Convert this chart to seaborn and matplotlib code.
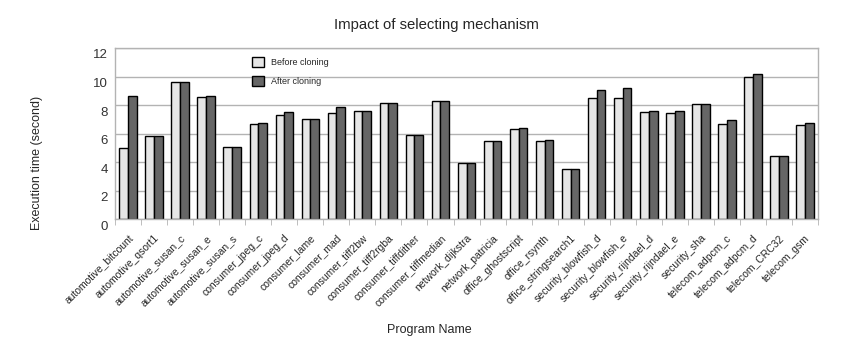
import matplotlib
matplotlib.use("Agg")
import matplotlib.pyplot as plt
import matplotlib.transforms as mtransforms
import seaborn as sns
import pandas as pd
import numpy as np
from matplotlib.patches import Patch

programs = ["automotive_bitcount", "automotive_qsort1", "automotive_susan_c", "automotive_susan_e",
            "automotive_susan_s", "consumer_jpeg_c", "consumer_jpeg_d", "consumer_lame", "consumer_mad",
            "consumer_tiff2bw", "consumer_tiff2rgba", "consumer_tiffdither", "consumer_tiffmedian",
            "network_dijkstra", "network_patricia", "office_ghostscript", "office_rsynth",
            "office_stringsearch1", "security_blowfish_d", "security_blowfish_e", "security_rijndael_d",
            "security_rijndael_e", "security_sha", "telecom_adpcm_c", "telecom_adpcm_d", "telecom_CRC32",
            "telecom_gsm"]
before = [4.98, 5.80, 9.61, 8.56, 5.05, 6.67, 7.30, 7.02, 7.44, 7.58, 8.14, 5.89, 8.28,
          3.93, 5.47, 6.32, 5.47, 3.51, 8.49, 8.49, 7.51, 7.44, 8.07, 6.67, 9.96, 4.42, 6.60]
after = [8.61, 5.80, 9.61, 8.63, 5.05, 6.74, 7.51, 7.02, 7.86, 7.58, 8.14, 5.89, 8.28,
         3.93, 5.47, 6.39, 5.54, 3.51, 9.05, 9.19, 7.58, 7.58, 8.07, 6.95, 10.18, 4.42, 6.74]
series = ["Before cloning", "After cloning"]
colors = ["#e6e6e6", "#666666"]

df = pd.DataFrame({
    "Program": programs * 2,
    "Time": before + after,
    "Series": [series[0]] * len(programs) + [series[1]] * len(programs),
})

sns.set_style("white")
plt.rcParams["font.family"] = ["Liberation Sans", "DejaVu Sans"]

fig = plt.figure(figsize=(8.47, 3.38), dpi=100)
ax = fig.add_axes([0.1358, 0.352, 0.830, 0.506])

sns.barplot(data=df, x="Program", y="Time", hue="Series", hue_order=series,
            palette=colors, width=0.67, edgecolor="black", linewidth=1.0,
            saturation=1, legend=False, ax=ax, errorbar=None)

ax.set_ylim(0, 12)
ax.set_xlim(-0.5, len(programs) - 0.5)
ax.set_yticks(np.arange(0, 13, 2))
ax.yaxis.grid(True, color="#b3b3b3", linewidth=1.0)
ax.set_axisbelow(True)
for s in ax.spines.values():
    s.set_color("#b3b3b3")
    s.set_linewidth(1.0)

ax.set_xticks(range(len(programs)))
ax.set_xticklabels(programs, rotation=45, ha="right", rotation_mode="anchor", fontsize=7.5)
ax.tick_params(axis="x", which="major", length=0, pad=10)
ax.set_xticks(np.arange(-0.5, len(programs), 1), minor=True)
ax.tick_params(axis="x", which="minor", length=4, color="#b3b3b3", direction="out", bottom=True)
ax.tick_params(axis="y", length=0, labelsize=9.5, pad=5, labelcolor="#333333")
offset = mtransforms.ScaledTranslation(0, -6 / 100, fig.dpi_scale_trans)
for lab in ax.get_yticklabels():
    lab.set_transform(lab.get_transform() + offset)

ax.set_xlabel("")
ax.set_ylabel("")
fig.text(0.507, 0.024, "Program Name", fontsize=9, ha="center", va="center")
fig.text(0.044, 0.518, "Execution time (second)", fontsize=9, ha="center", va="center",
         rotation=90)
fig.text(0.515, 0.926, "Impact of selecting mechanism", fontsize=10.7, ha="center", va="center")

handles = [Patch(facecolor=c, edgecolor="black", linewidth=1.0) for c in colors]
ax.legend(handles, series, loc="upper left", bbox_to_anchor=(0.195, 0.947), frameon=False,
          fontsize=6.5, labelspacing=0.95, handlelength=1.33, handleheight=1.33,
          handletextpad=0.8, borderpad=0, borderaxespad=0)

fig.savefig("out.png", dpi=100)
